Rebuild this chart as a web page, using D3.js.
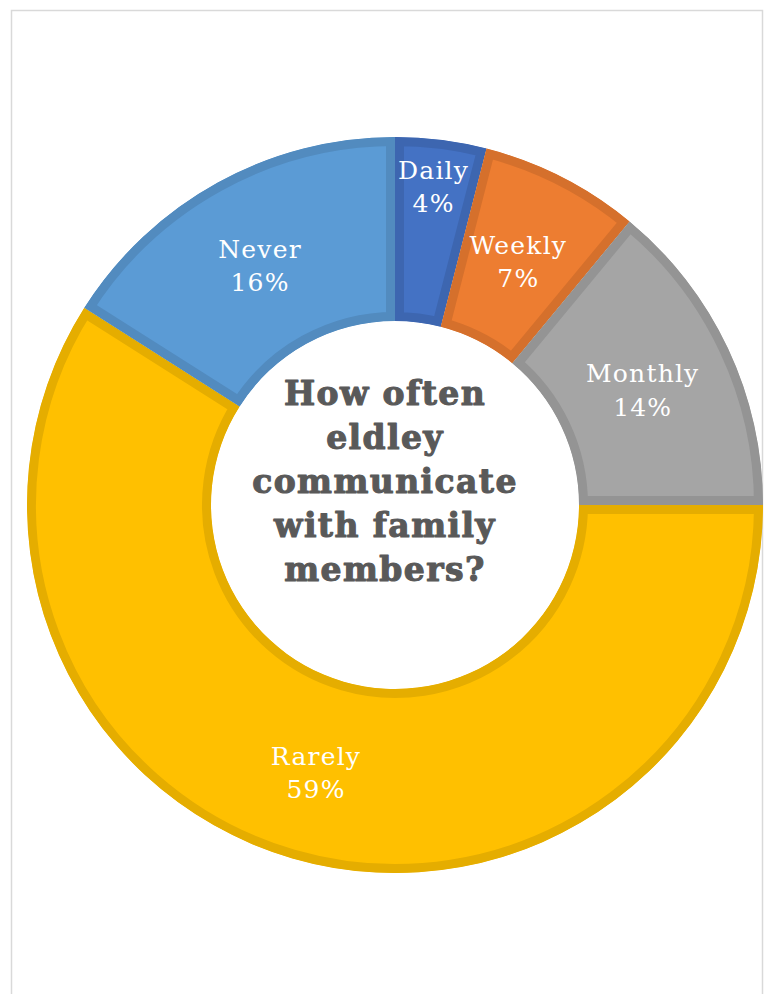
<!DOCTYPE html>
<html>
<head>
<meta charset="utf-8">
<script src="https://cdn.jsdelivr.net/npm/d3@7"></script>
<style>
  html, body { margin: 0; padding: 0; background: #ffffff; }
  svg { display: block; }
</style>
</head>
<body>
<div id="chart"></div>
<script>
// Survey answers: how often elderly people talk with their family
const categories = ["Daily", "Weekly", "Monthly", "Rarely", "Never"];
const shares = [4, 7, 14, 59, 16];
const colors = ["#4472C4", "#ED7D31", "#A5A5A5", "#FFC000", "#5B9BD5"];
const titleLines = ["How often", "eldley", "communicate", "with family", "members?"];

const width = 765, height = 994;
const cx = 395, cy = 505;
const outerR = 368, innerR = 184;
const band = 9; // inner border width of each wedge

const svg = d3.select("#chart").append("svg")
  .attr("width", width).attr("height", height);

// chart frame
svg.append("rect")
  .attr("x", 11.5).attr("y", 10.5)
  .attr("width", 751).attr("height", 1010)
  .attr("fill", "#ffffff")
  .attr("stroke", "#d9d9d9").attr("stroke-width", 1.5);

const data = categories.map((c, i) => ({ name: c, value: shares[i], color: colors[i] }));

const pie = d3.pie().value(d => d.value).sort(null);
const arc = d3.arc().innerRadius(innerR).outerRadius(outerR);
const arcs = pie(data);

const g = svg.append("g").attr("transform", `translate(${cx},${cy})`);
const defs = svg.append("defs");

arcs.forEach((a, i) => {
  defs.append("clipPath").attr("id", "wedge-" + i)
    .append("path").attr("d", arc(a));
});

g.selectAll("path.wedge")
  .data(arcs)
  .join("path")
  .attr("class", "wedge")
  .attr("d", arc)
  .attr("fill", d => d.data.color)
  .attr("stroke", d => d3.color(d.data.color).darker(0.3).formatHex())
  .attr("stroke-width", band * 2)
  .attr("stroke-linejoin", "miter")
  .attr("clip-path", (d, i) => `url(#wedge-${i})`);

// slice labels: name and percentage, centred in the ring
const midR = (innerR + outerR) / 2;
const labels = g.selectAll("text.lbl")
  .data(arcs)
  .join("text")
  .attr("class", "lbl")
  .attr("text-anchor", "middle")
  .attr("font-family", "'DejaVu Serif', serif")
  .attr("font-size", 25)
  .attr("letter-spacing", "1.2px")
  .attr("fill", "#ffffff")
  .attr("transform", d => {
    const ang = (d.startAngle + d.endAngle) / 2;
    const narrow = (d.endAngle - d.startAngle) < 0.3;
    const r = narrow ? midR + 48 : midR;
    return `translate(${r * Math.sin(ang) - 2},${-r * Math.cos(ang)})`;
  });

labels.append("tspan")
  .attr("x", 0).attr("dy", "-0.2em")
  .text(d => d.data.name);
labels.append("tspan")
  .attr("x", 0).attr("dy", "1.33em")
  .text(d => d.data.value + "%");

// centre title
const title = g.append("text")
  .attr("text-anchor", "middle")
  .attr("font-family", "'DejaVu Serif', serif")
  .attr("font-weight", "bold")
  .attr("font-size", 33)
  .attr("letter-spacing", "1.4px")
  .attr("fill", "#595959")
  .attr("stroke", "#595959")
  .attr("stroke-width", 1.1)
  .attr("stroke-linejoin", "round");
const lh = 44;
titleLines.forEach((t, i) => {
  title.append("tspan")
    .attr("x", -10)
    .attr("y", (i - (titleLines.length - 1) / 2) * lh - 12)
    .text(t);
});
</script>
</body>
</html>
